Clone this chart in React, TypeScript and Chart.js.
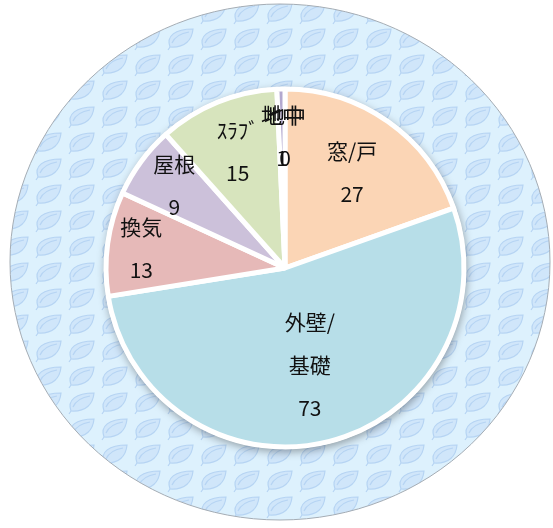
import { useEffect, useRef } from "react";
import { Chart, registerables } from "chart.js";
Chart.register(...registerables);

const categories = ["窓/戸", "外壁/基礎", "換気", "屋根", "ｽﾗﾌﾞ", "地中", "地中"];
const values = [27, 73, 13, 9, 15, 1, 0];
const sliceColors = ["#FBD5B5", "#B7DEE8", "#E6B9B8", "#CCC1DA", "#D7E4BD", "#B3A8CF", "#B3A8CF"];
const labelRadius = [0.65, 0.56, 0.81, 0.77, 0.7, 0.735, 0.735];
const wrapped: Record<string, string[]> = { "外壁/基礎": ["外壁/", "基礎"] };

function makePattern(ctx: CanvasRenderingContext2D) {
  const c = document.createElement("canvas");
  c.width = 33;
  c.height = 26;
  const g = c.getContext("2d")!;
  g.fillStyle = "#DDF1FD";
  g.fillRect(0, 0, 33, 26);
  g.beginPath();
  g.moveTo(5, 21);
  g.bezierCurveTo(1, 10, 10, 3, 28, 3);
  g.bezierCurveTo(27, 14, 20, 22, 5, 21);
  g.closePath();
  g.fillStyle = "#D0E6FA";
  g.fill();
  g.strokeStyle = "#B6D4F3";
  g.lineWidth = 1.2;
  g.stroke();
  g.beginPath();
  g.moveTo(7, 17);
  g.quadraticCurveTo(11, 8, 24, 6);
  g.stroke();
  g.beginPath();
  g.moveTo(5, 21);
  g.lineTo(3, 24);
  g.stroke();
  return ctx.createPattern(c, "repeat")!;
}

const bgPlugin = {
  id: "bgEllipse",
  beforeDraw(chart: any) {
    const ctx = chart.ctx as CanvasRenderingContext2D;
    ctx.save();
    ctx.beginPath();
    ctx.ellipse(280, 262, 270, 258, 0, 0, Math.PI * 2);
    ctx.fillStyle = makePattern(ctx);
    ctx.fill();
    ctx.strokeStyle = "#A4ACB4";
    ctx.lineWidth = 1;
    ctx.stroke();
    ctx.restore();
  },
  beforeDatasetsDraw(chart: any) {
    const meta = chart.getDatasetMeta(0);
    const a = meta.data[0];
    if (!a) return;
    const ctx = chart.ctx as CanvasRenderingContext2D;
    ctx.save();
    ctx.beginPath();
    ctx.arc(a.x, a.y, a.outerRadius + 2, 0, Math.PI * 2);
    ctx.fillStyle = "#ffffff";
    ctx.shadowColor = "rgba(0,0,0,0.35)";
    ctx.shadowBlur = 8;
    ctx.shadowOffsetX = 1;
    ctx.shadowOffsetY = 3;
    ctx.fill();
    ctx.restore();
  },
  afterDatasetsDraw(chart: any) {
    const meta = chart.getDatasetMeta(0);
    const ctx = chart.ctx as CanvasRenderingContext2D;
    ctx.save();
    ctx.font = "21px 'Noto Sans CJK JP', sans-serif";
    ctx.fillStyle = "#111";
    ctx.textAlign = "center";
    ctx.textBaseline = "middle";
    const lh = 43;
    meta.data.forEach((arc: any, i: number) => {
      const mid = (arc.startAngle + arc.endAngle) / 2;
      const r = arc.outerRadius * labelRadius[i];
      const x = arc.x + Math.cos(mid) * r;
      const y = arc.y + Math.sin(mid) * r;
      const name = categories[i];
      const lines = [...(wrapped[name] || [name]), String(Math.round(values[i]))];
      const top = y - ((lines.length - 1) * lh) / 2;
      lines.forEach((t, k) => ctx.fillText(t, x, top + k * lh));
    });
    ctx.restore();
  },
};

export default function App() {
  const ref = useRef<HTMLCanvasElement>(null);
  useEffect(() => {
    const chart = new Chart(ref.current!, {
      type: "pie",
      data: {
        labels: categories,
        datasets: [
          {
            data: values,
            backgroundColor: sliceColors,
            borderColor: "#ffffff",
            borderWidth: 5,
          },
        ],
      },
      options: {
        responsive: false,
        animation: false,
        devicePixelRatio: 1,
        events: [],
        radius: 179,
        layout: { padding: { left: 17, right: 0, top: 8, bottom: 0 } },
        plugins: { legend: { display: false }, tooltip: { enabled: false } },
      } as any,
      plugins: [bgPlugin],
    });
    return () => chart.destroy();
  }, []);
  return (
    <div style={{ position: "fixed", left: 0, top: 0, width: 553, height: 528, background: "#fff" }}>
      <canvas ref={ref} width={553} height={528} style={{ display: "block", width: 553, height: 528 }} />
    </div>
  );
}
